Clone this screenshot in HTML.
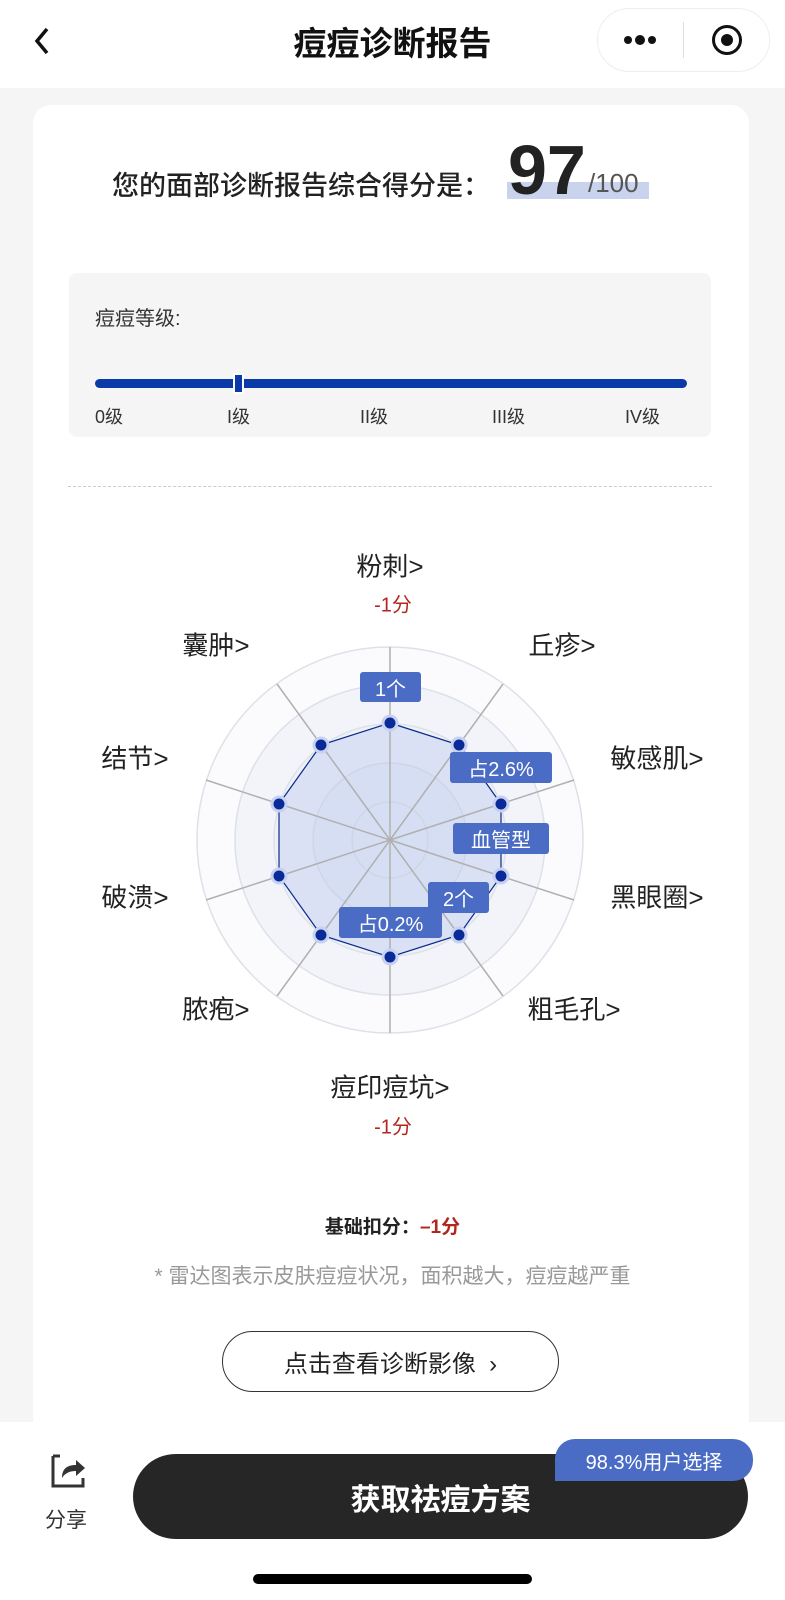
<!DOCTYPE html>
<html><head><meta charset="utf-8"><style>
*{margin:0;padding:0;box-sizing:border-box}
body{width:785px;height:1600px;position:relative;background:#f5f5f5;font-family:"Liberation Sans","Noto Sans CJK SC",sans-serif;color:#222;overflow:hidden}
.a{position:absolute;white-space:nowrap}
.lbl{position:absolute;font-size:26px;color:#222;white-space:nowrap;transform:translate(-50%,-50%)}
.red{position:absolute;font-size:20px;color:#b3261e;transform:translate(-50%,-50%)}
.tag{position:absolute;background:#4a6cc4;color:#fff;font-size:20px;border-radius:3px;display:flex;align-items:center;justify-content:center}
</style></head><body>
<div class="a" style="left:0;top:0;width:785px;height:88px;background:#fff"></div>
<svg class="a" style="left:32px;top:25px" width="20" height="32"><path d="M15 4 L5 16 L15 28" fill="none" stroke="#111" stroke-width="3.5"/></svg>
<div class="a" style="left:0;width:785px;top:17px;text-align:center;font-size:33px;font-weight:bold;color:#111">痘痘诊断报告</div>
<div class="a" style="left:597px;top:8px;width:173px;height:64px;border:1px solid #eee;border-radius:32px;background:#fff"></div>
<svg class="a" style="left:620px;top:30px" width="40" height="20"><circle cx="8" cy="10" r="4" fill="#111"/><circle cx="20" cy="10" r="5" fill="#111"/><circle cx="32" cy="10" r="4" fill="#111"/></svg>
<div class="a" style="left:683px;top:22px;width:1px;height:36px;background:#ddd"></div>
<div class="a" style="left:712px;top:25px;width:30px;height:30px;border:3px solid #111;border-radius:50%"></div>
<div class="a" style="left:721px;top:34px;width:12px;height:12px;background:#111;border-radius:50%"></div>

<div class="a" style="left:33px;top:105px;width:716px;height:1330px;background:#fff;border-radius:18px"></div>
<div class="a" style="left:507px;top:182px;width:142px;height:17px;background:#c9d3ee"></div>
<div class="a" style="left:112px;top:164px;font-size:27px;font-weight:500;font-family:'Noto Sans CJK SC',sans-serif;color:#222">您的面部诊断报告综合得分是：</div>
<div class="a" style="left:508px;top:130px;font-size:70px;font-weight:bold;color:#222">97</div>
<div class="a" style="left:588px;top:168px;font-size:26px;color:#555">/100</div>

<div class="a" style="left:69px;top:273px;width:642px;height:164px;background:#f5f5f5;border-radius:8px"></div>
<div class="a" style="left:95px;top:302px;font-size:20px;color:#333">痘痘等级:</div>
<div class="a" style="left:95px;top:379px;width:592px;height:9px;background:#0a3aa8;border-radius:5px"></div>
<div class="a" style="left:233px;top:373px;width:11px;height:21px;background:#0a3aa8;border:2px solid #fff;border-radius:2px"></div>
<div class="a" style="left:95px;top:403px;font-size:18px;color:#333">0级</div>
<div class="a" style="left:227px;top:403px;font-size:18px;color:#333">I级</div>
<div class="a" style="left:360px;top:403px;font-size:18px;color:#333">II级</div>
<div class="a" style="left:492px;top:403px;font-size:18px;color:#333">III级</div>
<div class="a" style="left:625px;top:403px;font-size:18px;color:#333">IV级</div>
<div class="a" style="left:68px;top:486px;width:644px;border-top:1px dashed #ccc"></div>

<svg class="a" style="left:0;top:0" width="785" height="1600">
<g fill="none" stroke="#dde1e8" stroke-width="1.5">
<circle cx="390" cy="840" r="193" fill="#fbfbfd"/>
<circle cx="390" cy="840" r="155" fill="#f2f4fa"/>
<circle cx="390" cy="840" r="116" fill="#eef1f9"/>
<circle cx="390" cy="840" r="77" fill="#e8ecf7"/>
<circle cx="390" cy="840" r="38" fill="#e8ecf7"/>
</g>
<polygon fill="rgba(160,180,230,0.25)" stroke="#0a2a8a" stroke-width="1.2" points="390,723 459,745 501,804 501,876 459,935 390,957 321,935 279,876 279,804 321,745"/>
<g stroke="#b0b0b0" stroke-width="1.5">
<line x1="390" y1="840" x2="390" y2="647"/><line x1="390" y1="840" x2="503" y2="684"/>
<line x1="390" y1="840" x2="574" y2="780"/><line x1="390" y1="840" x2="574" y2="900"/>
<line x1="390" y1="840" x2="503" y2="996"/><line x1="390" y1="840" x2="390" y2="1033"/>
<line x1="390" y1="840" x2="277" y2="996"/><line x1="390" y1="840" x2="206" y2="900"/>
<line x1="390" y1="840" x2="206" y2="780"/><line x1="390" y1="840" x2="277" y2="684"/>
</g>
<g fill="#0a2a9a" stroke="#c6d2f0" stroke-width="3">
<circle cx="390" cy="723" r="7"/><circle cx="459" cy="745" r="7"/><circle cx="501" cy="804" r="7"/><circle cx="501" cy="876" r="7"/><circle cx="459" cy="935" r="7"/><circle cx="390" cy="957" r="7"/><circle cx="321" cy="935" r="7"/><circle cx="279" cy="876" r="7"/><circle cx="279" cy="804" r="7"/><circle cx="321" cy="745" r="7"/>
</g>
</svg>
<div class="tag" style="left:360px;top:672px;width:61px;height:30px">1个</div>
<div class="tag" style="left:450px;top:752px;width:102px;height:31px">占2.6%</div>
<div class="tag" style="left:453px;top:823px;width:96px;height:31px">血管型</div>
<div class="tag" style="left:428px;top:882px;width:61px;height:31px">2个</div>
<div class="tag" style="left:339px;top:907px;width:103px;height:31px">占0.2%</div>

<div class="lbl" style="left:390px;top:565px">粉刺&gt;</div>
<div class="red" style="left:393px;top:603px">-1分</div>
<div class="lbl" style="left:562px;top:644px">丘疹&gt;</div>
<div class="lbl" style="left:657px;top:757px">敏感肌&gt;</div>
<div class="lbl" style="left:657px;top:896px">黑眼圈&gt;</div>
<div class="lbl" style="left:574px;top:1008px">粗毛孔&gt;</div>
<div class="lbl" style="left:390px;top:1086px">痘印痘坑&gt;</div>
<div class="red" style="left:393px;top:1125px">-1分</div>
<div class="lbl" style="left:216px;top:1008px">脓疱&gt;</div>
<div class="lbl" style="left:135px;top:896px">破溃&gt;</div>
<div class="lbl" style="left:135px;top:757px">结节&gt;</div>
<div class="lbl" style="left:216px;top:644px">囊肿&gt;</div>

<div class="a" style="left:0;width:785px;top:1212px;text-align:center;font-size:19px;font-weight:bold;color:#222">基础扣分：<span style="color:#b3261e">–1分</span></div>
<div class="a" style="left:0;width:785px;top:1260px;text-align:center;font-size:21px;color:#999">* 雷达图表示皮肤痘痘状况，面积越大，痘痘越严重</div>
<div class="a" style="left:222px;top:1331px;width:337px;height:61px;border:1px solid #333;border-radius:31px;display:flex;align-items:center;justify-content:center;font-size:24px;color:#222">点击查看诊断影像 &nbsp;&#8250;</div>

<div class="a" style="left:0;top:1422px;width:785px;height:178px;background:#fff"></div>
<svg class="a" style="left:50px;top:1452px" width="40" height="40"><path d="M3 4 H10 M3 4 V34 H33 V26" fill="none" stroke="#333" stroke-width="3"/><path d="M12 26 C12 16 18 13 26 13 V8 L35 16 L26 24 V19 C20 19 15 21 12 26Z" fill="#333"/></svg>
<div class="a" style="left:45px;top:1504px;font-size:21px;color:#333">分享</div>
<div class="a" style="left:133px;top:1454px;width:615px;height:85px;background:#262626;border-radius:43px;display:flex;align-items:center;justify-content:center;color:#fff;font-size:30px;font-weight:bold">获取祛痘方案</div>
<div class="a" style="left:555px;top:1439px;width:198px;height:42px;background:#4a6cc4;border-radius:20px 20px 20px 0;color:#fff;font-size:20px;display:flex;align-items:center;justify-content:center">98.3%用户选择</div>
<div class="a" style="left:253px;top:1574px;width:279px;height:10px;background:#000;border-radius:5px"></div>
</body></html>
